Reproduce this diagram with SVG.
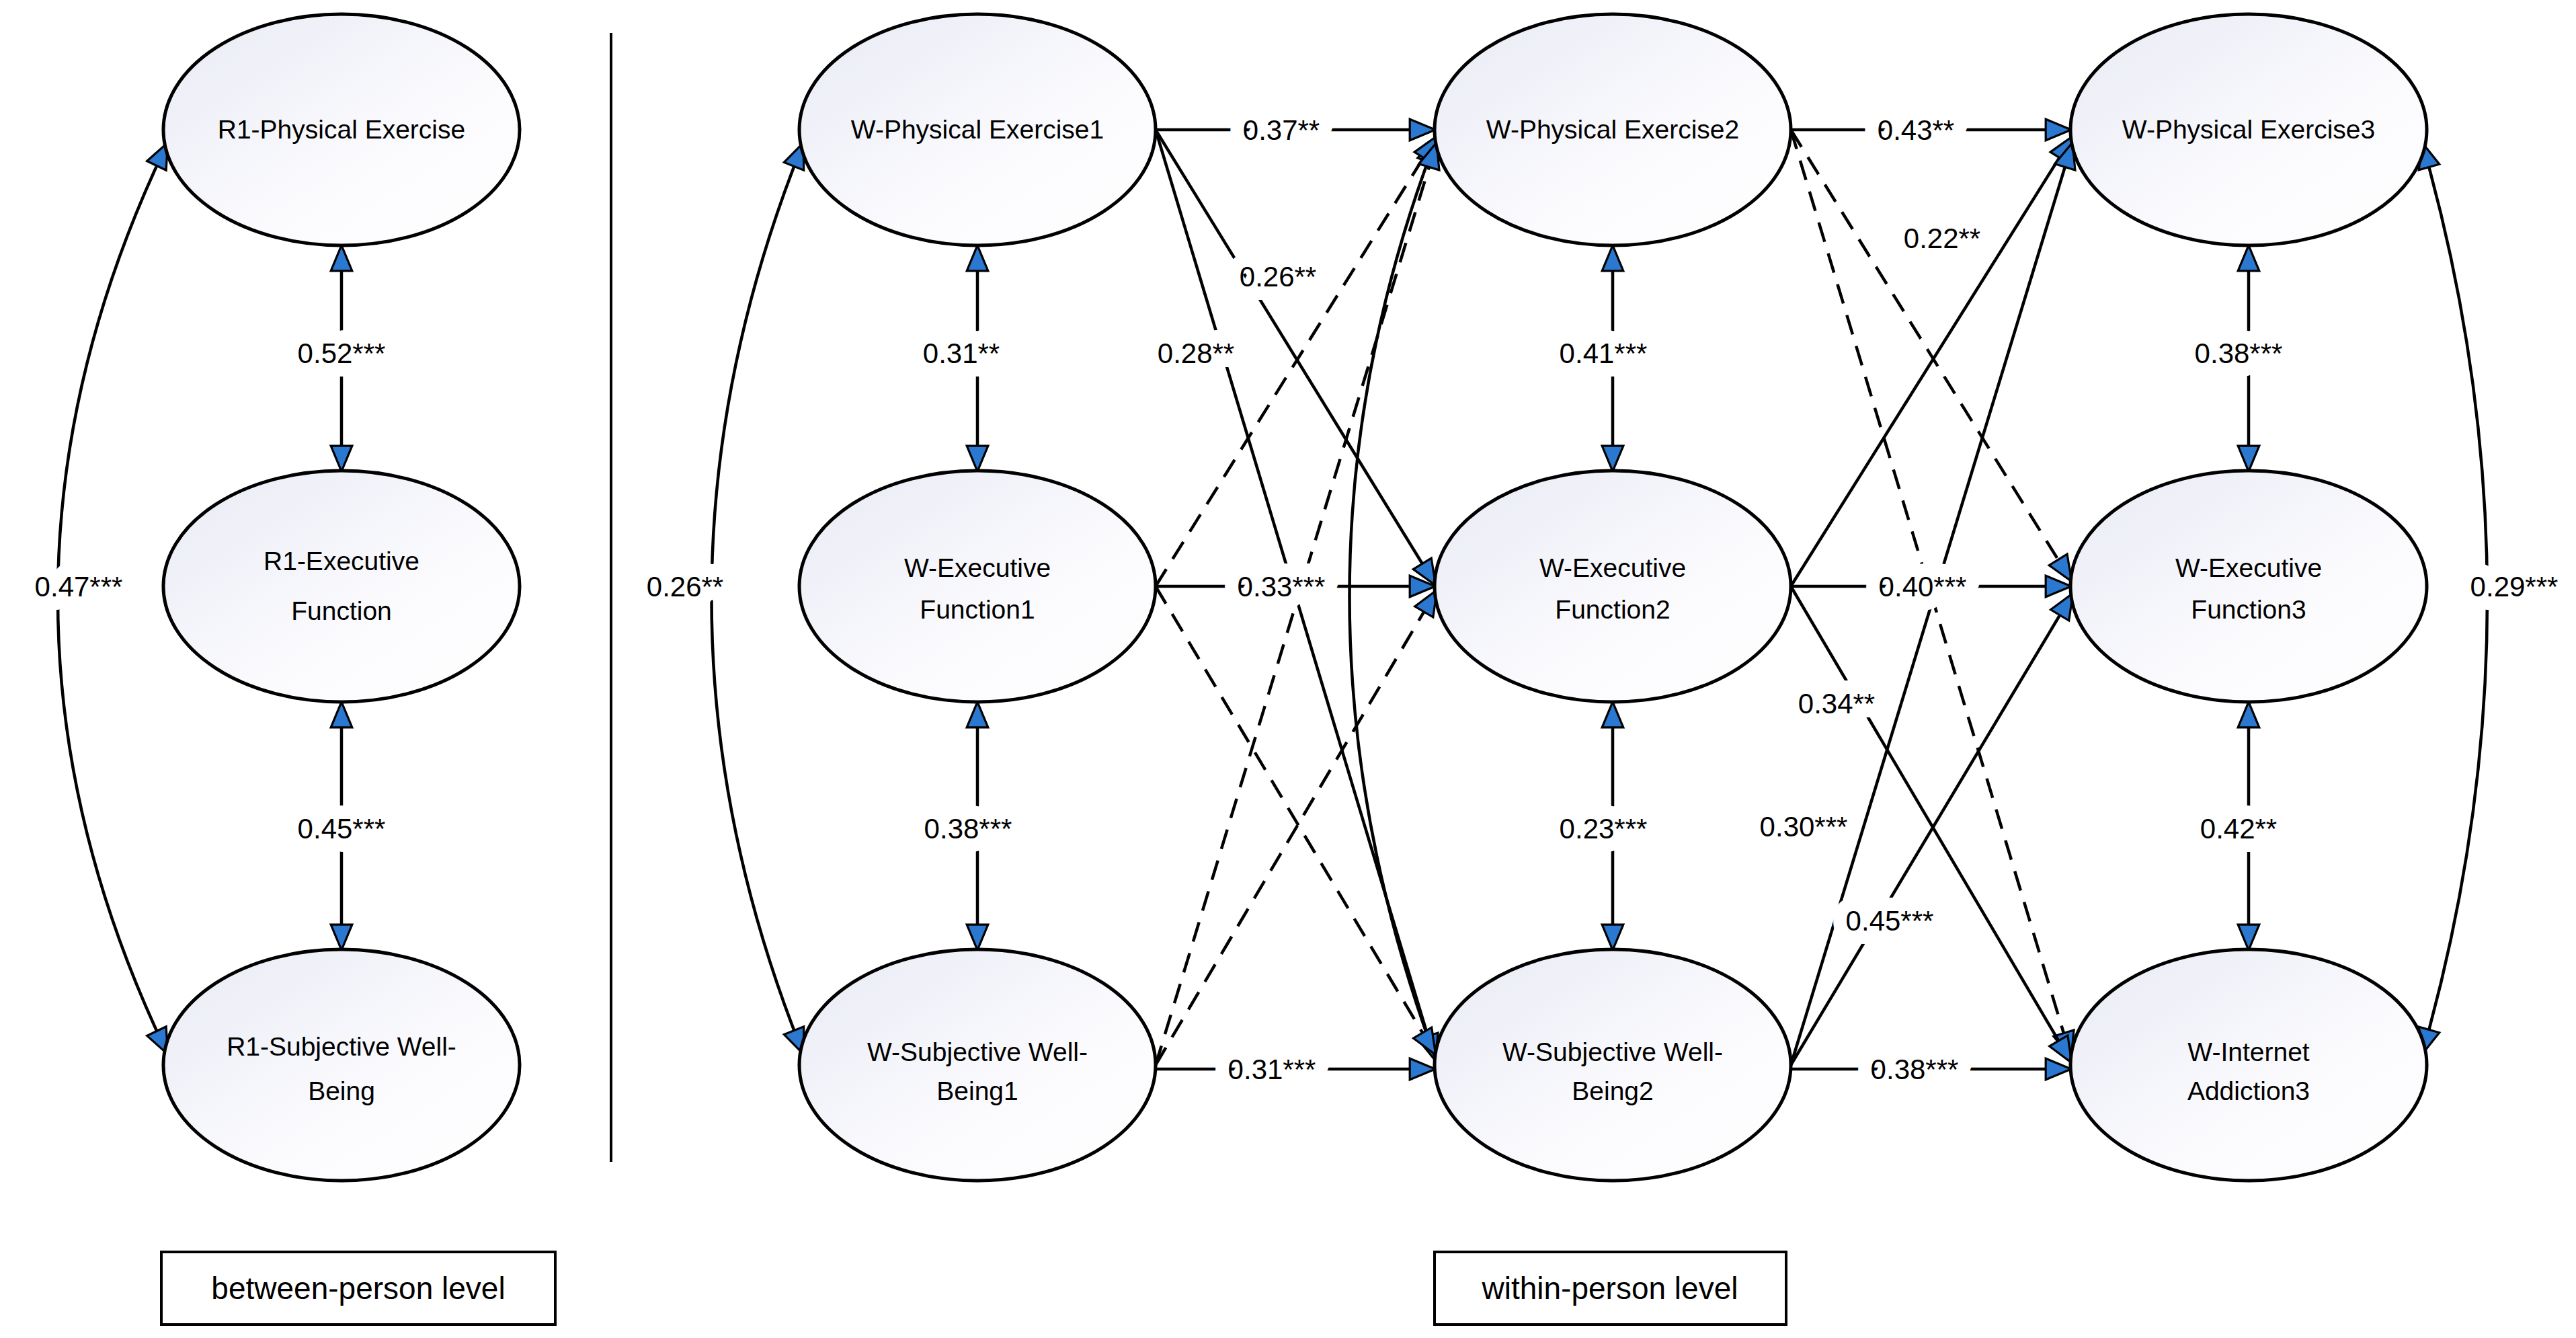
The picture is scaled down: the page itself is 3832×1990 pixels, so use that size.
<svg xmlns="http://www.w3.org/2000/svg" width="3832" height="1990" viewBox="0 0 3832 1990">
<style>
.n{fill:url(#g);stroke:#000;stroke-width:5}
.t{font-family:"Liberation Sans",Arial,sans-serif;font-size:39px;text-anchor:middle;fill:#000}
.l{font-family:"Liberation Sans",Arial,sans-serif;font-size:42px;text-anchor:middle;fill:#000;stroke:#fff;stroke-width:40;stroke-linejoin:round;paint-order:stroke;dominant-baseline:central}
.s{fill:none;stroke:#000;stroke-width:4.5;marker-end:url(#a)}
.d{fill:none;stroke:#000;stroke-width:4.5;stroke-dasharray:30 18;marker-end:url(#a)}
.b{fill:none;stroke:#000;stroke-width:4.5;marker-end:url(#a);marker-start:url(#a)}
.bx{fill:#fff;stroke:#000;stroke-width:4}
.bt{font-family:"Liberation Sans",Arial,sans-serif;font-size:46px;text-anchor:middle;fill:#000}
</style>
<defs>
<linearGradient id="g" x1="0" y1="0" x2="1" y2="1"><stop offset="0" stop-color="#e8eaf4"/><stop offset="0.6" stop-color="#fbfbfe"/><stop offset="1" stop-color="#ffffff"/></linearGradient>
<marker id="a" viewBox="0 0 12 10" refX="11" refY="5" markerWidth="38" markerHeight="32" markerUnits="userSpaceOnUse" orient="auto-start-reverse" style="overflow:visible"><path d="M0,0 L12,5 L0,10 Z" fill="#2a78d0" stroke="#000" stroke-width="1"/></marker>
</defs>
<rect width="3832" height="1990" fill="#fff"/>
<line x1="909" y1="49" x2="909" y2="1728" stroke="#000" stroke-width="4"/>
<g id="connectors">
<line class="b" x1="508" y1="368" x2="508" y2="698"/>
<line class="b" x1="508" y1="1047" x2="508" y2="1410"/>
<line class="b" x1="1454" y1="368" x2="1454" y2="698"/>
<line class="b" x1="1454" y1="1047" x2="1454" y2="1410"/>
<line class="b" x1="2399" y1="368" x2="2399" y2="698"/>
<line class="b" x1="2399" y1="1047" x2="2399" y2="1410"/>
<line class="b" x1="3345" y1="368" x2="3345" y2="698"/>
<line class="b" x1="3345" y1="1047" x2="3345" y2="1410"/>
<path class="b" d="M248 215 Q -76 890 248 1565"/>
<path class="b" d="M1194 215 Q 923 890 1194 1565"/>
<path class="b" d="M3604 215 Q 3796 890 3604 1565"/>
<line class="s" x1="1719" y1="193" x2="2132" y2="193"/>
<line class="s" x1="2664" y1="193" x2="3078" y2="193"/>
<line class="s" x1="1719" y1="872" x2="2132" y2="872"/>
<line class="s" x1="2664" y1="872" x2="3078" y2="872"/>
<line class="s" x1="1719" y1="1590" x2="2132" y2="1590"/>
<line class="s" x1="2664" y1="1590" x2="3078" y2="1590"/>
<line class="s" x1="1719" y1="193" x2="2134" y2="868"/>
<line class="s" x1="1719" y1="193" x2="2134" y2="1574"/>
<path class="s" d="M2134 1570 Q 1880 880 2136 208"/>
<line class="d" x1="1719" y1="872" x2="2136" y2="205"/>
<line class="d" x1="1719" y1="872" x2="2134" y2="1566"/>
<line class="d" x1="1719" y1="1584" x2="2136" y2="215"/>
<line class="d" x1="1719" y1="1584" x2="2136" y2="880"/>
<line class="d" x1="2664" y1="193" x2="3080" y2="862"/>
<line class="d" x1="2664" y1="193" x2="3080" y2="1570"/>
<line class="s" x1="2664" y1="872" x2="3082" y2="205"/>
<line class="s" x1="2664" y1="872" x2="3080" y2="1578"/>
<line class="s" x1="2664" y1="1584" x2="3082" y2="215"/>
<line class="s" x1="2664" y1="1584" x2="3082" y2="885"/>
<text class="l" x="508" y="525">0.52***</text>
<text class="l" x="508" y="1232">0.45***</text>
<text class="l" x="1430" y="525">0.31**</text>
<text class="l" x="1440" y="1232">0.38***</text>
<text class="l" x="2385" y="525">0.41***</text>
<text class="l" x="2385" y="1232">0.23***</text>
<text class="l" x="3330" y="525">0.38***</text>
<text class="l" x="3330" y="1232">0.42**</text>
<text class="l" x="117" y="872">0.47***</text>
<text class="l" x="1019" y="872">0.26**</text>
<text class="l" x="3740" y="872">0.29***</text>
<text class="l" x="1906" y="193">0.37**</text>
<text class="l" x="2850" y="193">0.43**</text>
<text class="l" x="1906" y="872">0.33***</text>
<text class="l" x="2860" y="872">0.40***</text>
<text class="l" x="1892" y="1590">0.31***</text>
<text class="l" x="2848" y="1590">0.38***</text>
<text class="l" x="1901" y="411">0.26**</text>
<text class="l" x="1779" y="525">0.28**</text>
<text class="l" x="2889" y="354">0.22**</text>
<text class="l" x="2732" y="1046">0.34**</text>
<text class="l" x="2683" y="1229">0.30***</text>
<text class="l" x="2811" y="1369">0.45***</text>
</g>
<g id="r1pe"><ellipse class="n" cx="508" cy="193" rx="265" ry="172"/><text class="t" x="508" y="206">R1-Physical Exercise</text></g>
<g id="r1ef"><ellipse class="n" cx="508" cy="872" rx="265" ry="172"/><text class="t" x="508" y="848">R1-Executive</text><text class="t" x="508" y="922">Function</text></g>
<g id="r1swb"><ellipse class="n" cx="508" cy="1584" rx="265" ry="172"/><text class="t" x="508" y="1570">R1-Subjective Well-</text><text class="t" x="508" y="1636">Being</text></g>
<g id="wpe1"><ellipse class="n" cx="1454" cy="193" rx="265" ry="172"/><text class="t" x="1454" y="206">W-Physical Exercise1</text></g>
<g id="wef1"><ellipse class="n" cx="1454" cy="872" rx="265" ry="172"/><text class="t" x="1454" y="858">W-Executive</text><text class="t" x="1454" y="920">Function1</text></g>
<g id="wswb1"><ellipse class="n" cx="1454" cy="1584" rx="265" ry="172"/><text class="t" x="1454" y="1578">W-Subjective Well-</text><text class="t" x="1454" y="1636">Being1</text></g>
<g id="wpe2"><ellipse class="n" cx="2399" cy="193" rx="265" ry="172"/><text class="t" x="2399" y="206">W-Physical Exercise2</text></g>
<g id="wef2"><ellipse class="n" cx="2399" cy="872" rx="265" ry="172"/><text class="t" x="2399" y="858">W-Executive</text><text class="t" x="2399" y="920">Function2</text></g>
<g id="wswb2"><ellipse class="n" cx="2399" cy="1584" rx="265" ry="172"/><text class="t" x="2399" y="1578">W-Subjective Well-</text><text class="t" x="2399" y="1636">Being2</text></g>
<g id="wpe3"><ellipse class="n" cx="3345" cy="193" rx="265" ry="172"/><text class="t" x="3345" y="206">W-Physical Exercise3</text></g>
<g id="wef3"><ellipse class="n" cx="3345" cy="872" rx="265" ry="172"/><text class="t" x="3345" y="858">W-Executive</text><text class="t" x="3345" y="920">Function3</text></g>
<g id="wia3"><ellipse class="n" cx="3345" cy="1584" rx="265" ry="172"/><text class="t" x="3345" y="1578">W-Internet</text><text class="t" x="3345" y="1636">Addiction3</text></g>
<g id="between"><rect class="bx" x="240" y="1862" width="586" height="108"/><text class="bt" x="533" y="1932">between-person level</text></g>
<g id="within"><rect class="bx" x="2134" y="1862" width="523" height="108"/><text class="bt" x="2395" y="1932">within-person level</text></g>
</svg>
